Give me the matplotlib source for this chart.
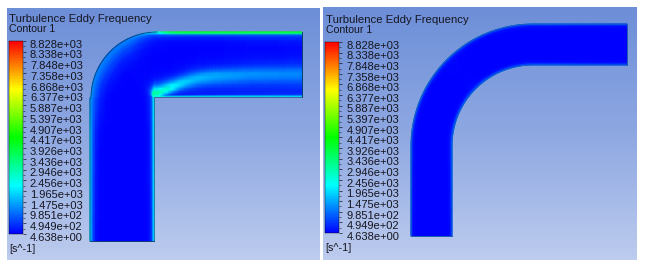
import numpy as np
import matplotlib
matplotlib.use('Agg')
import matplotlib.pyplot as plt
from matplotlib.colors import LinearSegmentedColormap, Normalize
from matplotlib.cm import ScalarMappable
from matplotlib.transforms import ScaledTranslation

plt.rcParams['font.family'] = ['Liberation Sans', 'DejaVu Sans']

title = 'Turbulence Eddy Frequency'
subtitle = 'Contour 1'
unit = '[s^-1]'
level_labels = ['8.828e+03', '8.338e+03', '7.848e+03', '7.358e+03', '6.868e+03', '6.377e+03',
                '5.887e+03', '5.397e+03', '4.907e+03', '4.417e+03', '3.926e+03', '3.436e+03',
                '2.946e+03', '2.456e+03', '1.965e+03', '1.475e+03', '9.851e+02', '4.949e+02',
                '4.638e+00']
levels = [float(l) for l in level_labels]

# left duct, stations along the flow (0-1 vertical leg, 1-2 bend, 2-3 horizontal leg)
left_s = [0.0, 0.75, 1.0, 1.35, 1.7, 1.85, 2.0, 2.02, 2.076, 2.13, 2.19, 2.28, 2.38, 2.64, 3.0]
# across the duct, 0 = outer wall, 1 = inner wall
left_xi = [0, .02, .05, .09, .15, .25, .38, .5, .58, .64, .7, .76, .82, .88, .93, .97, .985, 1]
left_freq = [
    [2100, 1500, 600, 150, 30, 10, 10, 10, 10, 10, 10, 10, 10, 30, 150, 600, 1500, 2100],
    [2000, 1400, 700, 300, 80, 20, 10, 10, 10, 10, 10, 10, 20, 50, 200, 800, 1600, 2200],
    [1500, 1200, 950, 650, 300, 80, 20, 10, 10, 10, 10, 20, 40, 120, 350, 900, 1700, 2400],
    [1000, 1100, 1050, 900, 650, 300, 100, 30, 30, 30, 40, 60, 100, 250, 600, 1300, 2200, 2800],
    [1000, 1100, 1050, 850, 600, 300, 120, 50, 50, 60, 80, 130, 280, 650, 1400, 2500, 3200, 2800],
    [1400, 1200, 850, 600, 350, 150, 60, 40, 50, 70, 110, 200, 400, 1100, 2200, 3300, 3400, 2700],
    [2600, 1700, 700, 350, 150, 50, 30, 30, 40, 60, 120, 300, 800, 1800, 3000, 3600, 3500, 2600],
    [3200, 2200, 700, 300, 120, 40, 30, 30, 40, 70, 180, 500, 1000, 2200, 3300, 2600, 1500, 2500],
    [3900, 2900, 700, 300, 100, 40, 30, 30, 50, 120, 300, 800, 1900, 3000, 2000, 700, 900, 2500],
    [4100, 3200, 700, 280, 90, 35, 30, 40, 90, 200, 600, 1500, 2400, 1700, 700, 300, 800, 2500],
    [4200, 3300, 700, 250, 80, 30, 30, 60, 200, 500, 1200, 2000, 1600, 800, 350, 250, 800, 2500],
    [4200, 3300, 700, 250, 80, 30, 40, 150, 450, 1100, 1700, 1500, 900, 450, 280, 280, 900, 2500],
    [4200, 3300, 700, 250, 80, 30, 50, 200, 700, 1400, 1500, 1200, 700, 350, 250, 300, 1000, 2500],
    [4200, 3300, 700, 350, 150, 60, 120, 350, 900, 1300, 1200, 850, 550, 350, 300, 400, 1100, 2500],
    [4200, 3300, 750, 400, 200, 80, 150, 450, 950, 1200, 1100, 800, 550, 400, 350, 450, 1100, 2300],
]

# right duct
right_s = [0.0, 1.0, 1.5, 2.0, 3.0]
right_xi = [0, .03, .07, .15, .5, .85, .93, .97, 1]
right_freq = [
    [800, 300, 60, 20, 10, 20, 60, 300, 800],
    [1000, 450, 120, 30, 10, 30, 120, 450, 1000],
    [1000, 500, 150, 40, 10, 40, 150, 500, 1000],
    [1000, 450, 120, 30, 10, 30, 120, 450, 1000],
    [800, 350, 80, 20, 10, 20, 80, 350, 800],
]

fig = plt.figure(figsize=(6.45, 2.67), dpi=100)
ax = fig.add_axes([0, 0, 1, 1])
ax.set_xlim(0, 645)
ax.set_ylim(267, 0)
ax.axis('off')

rainbow = LinearSegmentedColormap.from_list('ansys', ['#0000ff', '#00ffff', '#00ff00', '#ffff00', '#ff0000'])
norm = Normalize(levels[-1], levels[0])
back = LinearSegmentedColormap.from_list('back', ['#6d8fd8', '#8ea8e2', '#bccbee'])


def duct_points(s, xi, x_out, x_in, y_bot, cx, cy, r_out, r_in, x_end, y_top, y_in):
    # map flow station s and cross position xi to picture pixels
    if s <= 1:
        xo, yo = x_out, y_bot + (cy - y_bot) * s
        end = cy if r_in > 0 else y_in
        xn, yn = x_in, y_bot + (end - y_bot) * s
    elif s <= 2:
        a = (s - 1) * np.pi / 2
        xo, yo = cx - r_out * np.cos(a), cy - r_out * np.sin(a)
        if r_in > 0:
            xn, yn = cx - r_in * np.cos(a), cy - r_in * np.sin(a)
        else:
            xn, yn = x_in, y_in
    else:
        xo, yo = cx + (x_end - cx) * (s - 2), y_top
        xn, yn = xo, y_in
    return xo + (xn - xo) * xi, yo + (yn - yo) * xi


def draw_duct(s_list, xi_list, freq, edge, **geo):
    # finer stations so the bend is round, table values blended along the flow
    s_fine = np.linspace(0, 3, 301)
    freq = np.array(freq, dtype=float)
    field = np.column_stack([np.interp(s_fine, s_list, freq[:, j]) for j in range(len(xi_list))])
    win = np.ones(9) / 9
    for j in range(len(xi_list)):
        pad = np.pad(field[:, j], 4, mode='edge')
        field[:, j] = np.convolve(pad, win, mode='valid')
    X = np.zeros_like(field)
    Y = np.zeros_like(field)
    for i, s in enumerate(s_fine):
        for j, c in enumerate(xi_list):
            X[i, j], Y[i, j] = duct_points(s, c, **geo)
    ax.pcolormesh(X, Y, field, cmap=rainbow, norm=norm, shading='gouraud', zorder=2)
    # fine outline of the wall, the top wall of the left duct stays green
    bend = s_fine <= 2.0 if edge == '#0c3f73' else s_fine <= 3.0
    ax.plot(X[bend, 0], Y[bend, 0], color=edge, lw=0.6, zorder=3)
    ax.plot(X[:, -1], Y[:, -1], color=edge, lw=0.4, zorder=3)
    ax.plot(X[0], Y[0], color=edge, lw=0.7, zorder=3)
    ax.plot(X[-1], Y[-1], color=edge, lw=0.7, zorder=3)


def draw_panel(box, bar, text_x, text_y):
    x0, x1, y0, y1 = box
    ax.imshow(np.linspace(0, 1, 64).reshape(-1, 1), cmap=back, extent=(x0, x1, y1, y0),
              aspect='auto', zorder=1)
    ax.text(text_x, text_y[0], title, fontsize=8.2, color='#15151f', va='center', zorder=4)
    ax.text(text_x, text_y[1], subtitle, fontsize=7.6, color='#15151f', va='center', zorder=4)
    ax.text(text_x, text_y[2], unit, fontsize=7.8, color='#15151f', va='center', zorder=4)
    bx0, bx1, by0, by1 = bar
    cax = fig.add_axes([bx0 / 645, 1 - by1 / 267, (bx1 - bx0) / 645, (by1 - by0) / 267])
    cb = fig.colorbar(ScalarMappable(norm=norm, cmap=rainbow), cax=cax, ticks=levels)
    cb.ax.set_yticklabels(level_labels)
    cb.outline.set_linewidth(0.3)
    cb.ax.tick_params(which='major', length=2.2, width=0.5, pad=3, labelsize=8, colors='#15151f')
    cb.ax.set_yticks(np.array(levels[:-1]) - 245, minor=True)
    cb.ax.tick_params(which='minor', length=1.2, width=0.4, colors='#15151f')
    offset = ScaledTranslation(0, -2 / 72, fig.dpi_scale_trans)
    for lab in cb.ax.get_yticklabels():
        lab.set_transform(lab.get_transform() + offset)


draw_panel((7, 320, 8, 260), (8.7, 22.7, 41, 234), 9, (18.5, 28.7, 249))
draw_panel((323, 637, 7, 260), (325.3, 339.3, 42, 233), 325.5, (20, 30, 248))

draw_duct(left_s, left_xi, left_freq, '#0c3f73', x_out=90, x_in=154, y_bot=241, cx=157, cy=98,
          r_out=66, r_in=0, x_end=302, y_top=32, y_in=96.5)
draw_duct(right_s, right_xi, right_freq, '#1c5fb0', x_out=411, x_in=452, y_bot=236, cx=533, cy=146,
          r_out=122, r_in=81, x_end=627, y_top=24, y_in=65)

ax.set_xlim(0, 645)
ax.set_ylim(267, 0)
fig.savefig('out.png', dpi=100, facecolor='white')
